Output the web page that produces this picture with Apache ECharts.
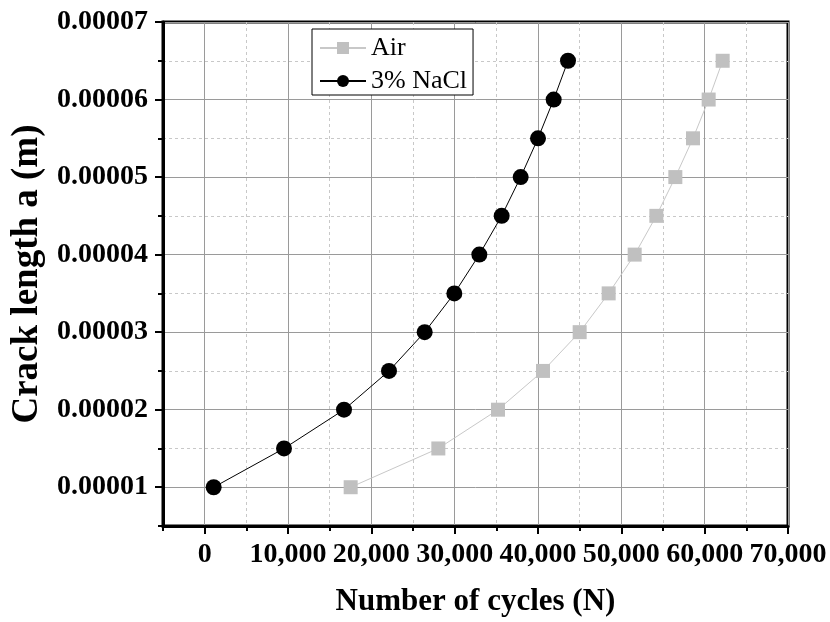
<!DOCTYPE html>
<html><head><meta charset="utf-8">
<script src="https://cdn.jsdelivr.net/npm/echarts@6/dist/echarts.min.js"></script>
<style>html,body{margin:0;padding:0;background:#fff}#c{width:830px;height:622px}</style>
</head><body><div id="c"></div>
<script>
const crackLength = [0.00001, 0.000015, 0.00002, 0.000025, 0.00003, 0.000035, 0.00004, 0.000045, 0.00005, 0.000055, 0.00006, 0.000065];
const cyclesAir = [17520, 28040, 35200, 40600, 45000, 48480, 51600, 54200, 56480, 58600, 60480, 62160];
const cyclesNaCl = [1080, 9520, 16720, 22120, 26400, 29960, 32960, 35640, 37920, 40000, 41880, 43600];
const seriesNames = ['Air', '3% NaCl'];
const xMajorTicks = [0, 10000, 20000, 30000, 40000, 50000, 60000, 70000];
const xMinorTicks = [-5000, 5000, 15000, 25000, 35000, 45000, 55000, 65000];
const yMajorTicks = [0.00001, 0.00002, 0.00003, 0.00004, 0.00005, 0.00006, 0.00007];
const yMinorTicks = [0.000005, 0.000015, 0.000025, 0.000035, 0.000045, 0.000055, 0.000065];
const xRange = [-5000, 70000];
const yRange = [0.000005, 0.00007];

const FONT = 'Liberation Serif';
const pairs = (xs, ys) => xs.map((x, i) => [x, ys[i]]);

const labelStyle = { fontFamily: FONT, fontWeight: 'bold', fontSize: 28, color: '#000' };
const xNameStyle = { fontFamily: FONT, fontWeight: 'bold', fontSize: 31, color: '#000' };
const yNameStyle = { fontFamily: FONT, fontWeight: 'bold', fontSize: 37, color: '#000' };

const chart = echarts.init(document.getElementById('c'), null, { renderer: 'canvas' });
chart.setOption({
  animation: false,
  backgroundColor: '#fff',
  grid: { left: 163, right: 42, top: 22, bottom: 96, show: true, borderColor: '#000', borderWidth: 3, backgroundColor: 'transparent' },
  legend: {
    data: seriesNames,
    orient: 'vertical',
    left: 312, top: 29,
    padding: [6, 6, 1, 7],
    itemGap: 7,
    itemWidth: 46, itemHeight: 15,
    backgroundColor: '#fff',
    borderColor: '#000', borderWidth: 1, borderRadius: 0,
    textStyle: { fontFamily: FONT, fontSize: 26, color: '#000', padding: [0, 0, 0, 0] }
  },
  xAxis: [
    {
      type: 'value', min: xRange[0], max: xRange[1], position: 'bottom',
      name: 'Number of cycles (N)', nameLocation: 'middle', nameGap: 60, nameTextStyle: xNameStyle,
      axisLine: { show: true, onZero: false, lineStyle: { color: '#000', width: 3 } },
      axisTick: { show: true, customValues: xMajorTicks, length: 8, lineStyle: { color: '#000', width: 2 } },
      axisLabel: { show: true, customValues: xMajorTicks, margin: 15, formatter: v => Number(v).toLocaleString('en-US'), ...labelStyle },
      splitLine: { show: true, lineStyle: { color: '#9a9a9a', width: 1, type: 'solid' } }
    },
    {
      type: 'value', min: xRange[0], max: xRange[1], position: 'bottom',
      axisLine: { show: false, onZero: false },
      axisTick: { show: true, customValues: xMinorTicks, length: 5, lineStyle: { color: '#000', width: 2 } },
      axisLabel: { show: false },
      splitLine: { show: true, lineStyle: { color: '#c8c8c8', width: 1, type: [3, 3] } }
    }
  ],
  yAxis: [
    {
      type: 'value', min: yRange[0], max: yRange[1], position: 'left',
      name: 'Crack length a (m)', nameLocation: 'middle', nameGap: 116, nameTextStyle: yNameStyle,
      axisLine: { show: true, onZero: false, lineStyle: { color: '#000', width: 3 } },
      axisTick: { show: true, customValues: yMajorTicks, length: 8, lineStyle: { color: '#000', width: 2 } },
      axisLabel: { show: true, customValues: yMajorTicks, margin: 15, formatter: v => Number(v).toFixed(5), ...labelStyle },
      splitLine: { show: true, lineStyle: { color: '#9a9a9a', width: 1, type: 'solid' } }
    },
    {
      type: 'value', min: yRange[0], max: yRange[1], position: 'left',
      axisLine: { show: false, onZero: false },
      axisTick: { show: true, customValues: yMinorTicks, length: 5, lineStyle: { color: '#000', width: 2 } },
      axisLabel: { show: false },
      splitLine: { show: true, lineStyle: { color: '#c8c8c8', width: 1, type: [3, 3] } }
    }
  ],
  series: [
    {
      name: seriesNames[0], type: 'line', xAxisIndex: 0, yAxisIndex: 0,
      data: pairs(cyclesAir, crackLength),
      symbol: 'rect', symbolSize: 14, showSymbol: true,
      itemStyle: { color: '#c0c0c0' },
      lineStyle: { color: '#c8c8c8', width: 1 },
      z: 3
    },
    {
      name: seriesNames[1], type: 'line', xAxisIndex: 0, yAxisIndex: 0,
      data: pairs(cyclesNaCl, crackLength),
      symbol: 'circle', symbolSize: 16, showSymbol: true,
      itemStyle: { color: '#000' },
      lineStyle: { color: '#000', width: 1 },
      z: 4
    }
  ]
});
</script>
</body></html>
